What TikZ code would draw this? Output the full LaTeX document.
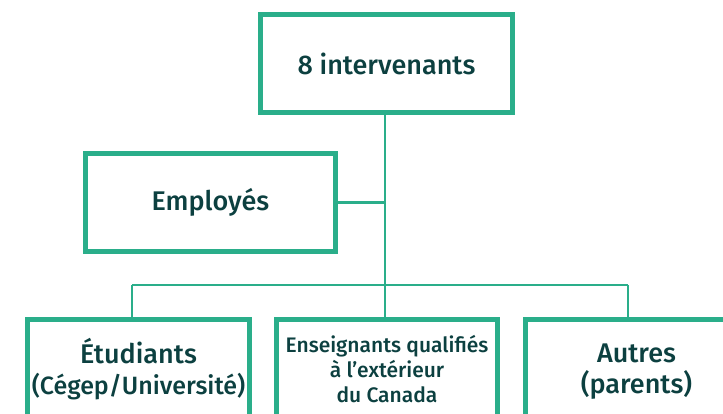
\documentclass[tikz,border=0pt]{standalone}
\usepackage{fontspec}
\setmainfont{Fira Sans}[UprightFont={* Medium}]
\definecolor{boxgreen}{RGB}{42,174,138}
\definecolor{txtdark}{RGB}{12,64,64}
\tikzset{
  orgbox/.style={draw=boxgreen, line width=5pt, fill=white, rectangle, align=center, text=txtdark, inner sep=0pt},
  conn/.style={draw=boxgreen, line width=2.4pt},
}
\begin{document}
\begin{tikzpicture}[x=1pt,y=-1pt]
\useasboundingbox (0,0) rectangle (723,413);
\clip (0,0) rectangle (723,413);
\fill[white] (0,0) rectangle (723,413);
\coordinate (hl) at (132,285);
\coordinate (hm) at (385,285);
\coordinate (hr) at (628,285);
\coordinate (ej) at (385,203.5);
\node[orgbox, minimum width=252pt, minimum height=98pt, font=\fontsize{27}{32}\selectfont] (top) at (386.5,63.5) {8 intervenants};
\node[orgbox, minimum width=250pt, minimum height=98pt, font=\fontsize{27}{32}\selectfont] (emp) at (210.5,202.5) {Employés};
\node[orgbox, minimum width=222pt, minimum height=99pt, font=\fontsize{27}{30.5}\selectfont] (etu) at (138.5,369) {Étudiants\\{\fontsize{25}{30.5}\selectfont (Cégep/Université)}};
\node[orgbox, minimum width=221pt, minimum height=99pt, font=\fontsize{21}{25}\selectfont] (ens) at (387,369) {Enseignants qualifiés\\à l’extérieur\\du Canada};
\node[orgbox, minimum width=222pt, minimum height=99pt, font=\fontsize{27}{30.5}\selectfont] (aut) at (636.5,369) {};
\node[text=txtdark, align=center, font=\fontsize{27}{30.5}\selectfont, inner sep=0pt] (autt) at (636.5,371.5) {Autres\\(parents)};
\draw[conn] (top.south -| hm) -- (hm);
\draw[conn] (emp.east) -- (emp.east -| ej);
\draw[conn] (hl) -- (hr);
\draw[conn] (hl) -- (etu.north -| hl);
\draw[conn] (hm) -- (ens.north -| hm);
\draw[conn] (hr) -- (aut.north -| hr);
\end{tikzpicture}
\end{document}
